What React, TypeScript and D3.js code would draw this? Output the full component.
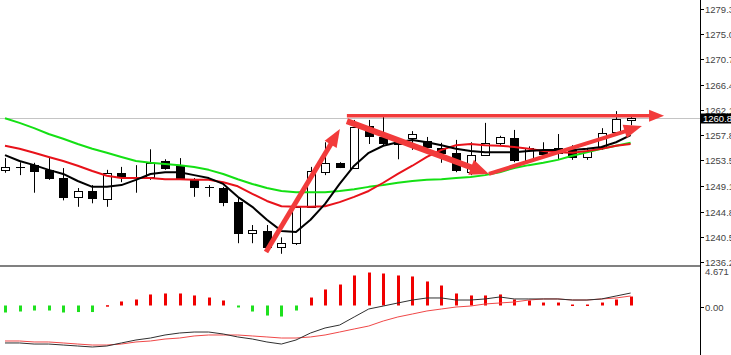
import React, { useEffect, useRef } from "react";
import * as d3 from "d3";

// Candles (44 bars)
const opens = [1251.9, 1252.4, 1252.7, 1251.9, 1250.5, 1247.3, 1248.3, 1246.9, 1251.4, 1250.7, 1250.7, 1253.4, 1252.7, 1250.3, 1249.0, 1248.8, 1246.4, 1241.1, 1241.5, 1238.7, 1239.4, 1245.6, 1251.5, 1253.1, 1252.2, 1259.4, 1257.5, 1256.5, 1257.3, 1256.8, 1255.6, 1254.8, 1251.5, 1254.4, 1256.5, 1257.3, 1253.6, 1255.3, 1254.8, 1255.3, 1254.1, 1255.8, 1258.3, 1260.4];
const highs = [1253.9, 1253.2, 1253.1, 1254.1, 1252.2, 1248.8, 1249.3, 1251.9, 1252.4, 1252.7, 1255.4, 1253.7, 1253.9, 1250.5, 1249.3, 1249.0, 1247.1, 1242.5, 1242.5, 1240.4, 1245.6, 1252.4, 1256.6, 1253.2, 1260.4, 1260.4, 1261.2, 1257.0, 1258.5, 1257.5, 1256.5, 1257.0, 1256.6, 1259.9, 1257.7, 1258.7, 1255.9, 1256.6, 1258.0, 1256.1, 1255.6, 1259.0, 1261.9, 1260.9];
const lows = [1251.4, 1251.0, 1248.0, 1250.2, 1246.7, 1245.6, 1246.2, 1245.6, 1249.8, 1248.0, 1250.2, 1251.9, 1250.2, 1247.3, 1247.3, 1245.7, 1239.4, 1239.4, 1238.6, 1237.6, 1239.1, 1245.6, 1251.0, 1252.2, 1252.2, 1256.3, 1256.0, 1253.7, 1255.3, 1255.3, 1253.1, 1251.5, 1251.0, 1254.4, 1256.1, 1253.2, 1253.2, 1254.4, 1253.6, 1253.6, 1253.6, 1255.3, 1258.2, 1259.5];
const closes = [1252.4, 1252.3, 1251.7, 1250.5, 1247.3, 1248.3, 1247.1, 1251.4, 1250.7, 1250.6, 1253.1, 1252.2, 1250.5, 1249.0, 1248.9, 1246.4, 1241.1, 1241.6, 1238.7, 1239.4, 1245.6, 1251.7, 1253.1, 1252.4, 1259.2, 1257.7, 1256.5, 1256.3, 1258.0, 1255.8, 1254.8, 1251.9, 1254.4, 1256.5, 1257.5, 1253.6, 1255.6, 1254.6, 1255.6, 1254.1, 1255.1, 1258.2, 1260.5, 1260.8];

// Moving averages (fast = black, medium = red, slow = green)
const maFast = [1254.4, 1253.4, 1252.7, 1251.9, 1251.2, 1250.0, 1249.0, 1249.0, 1249.3, 1250.2, 1251.2, 1251.5, 1251.5, 1251.0, 1250.5, 1249.5, 1247.3, 1245.6, 1243.4, 1241.5, 1241.3, 1243.4, 1246.1, 1249.5, 1252.6, 1254.8, 1256.0, 1256.6, 1257.0, 1256.6, 1256.1, 1255.5, 1255.1, 1254.9, 1254.9, 1254.9, 1255.1, 1255.3, 1255.3, 1255.3, 1255.5, 1255.8, 1256.6, 1257.8];
const maMid = [1256.0, 1255.5, 1254.8, 1254.1, 1253.4, 1252.6, 1251.7, 1250.9, 1250.5, 1250.5, 1250.5, 1250.3, 1250.3, 1250.2, 1250.2, 1249.8, 1249.1, 1247.8, 1246.6, 1245.7, 1245.6, 1245.6, 1245.7, 1246.4, 1247.3, 1248.3, 1249.7, 1251.2, 1252.6, 1254.1, 1255.3, 1256.1, 1256.3, 1256.1, 1256.0, 1255.8, 1255.5, 1255.1, 1254.9, 1254.8, 1255.1, 1255.5, 1256.0, 1256.3];
const maSlow = [1260.7, 1259.9, 1259.0, 1258.0, 1257.2, 1256.3, 1255.5, 1254.8, 1254.1, 1253.4, 1253.1, 1252.9, 1252.7, 1252.4, 1251.9, 1251.2, 1250.3, 1249.5, 1248.8, 1248.3, 1248.1, 1248.1, 1248.1, 1248.3, 1248.6, 1249.0, 1249.3, 1249.7, 1250.0, 1250.2, 1250.3, 1250.5, 1250.7, 1251.0, 1251.5, 1252.2, 1252.7, 1253.1, 1253.6, 1254.3, 1254.9, 1255.5, 1256.0, 1256.5];

// MACD sub window
const macdHist = [-0.92, -0.79, -0.66, -0.66, -0.92, -0.86, -0.86, 0.04, 0.53, 0.79, 1.45, 1.58, 1.58, 1.32, 1.05, 0.66, -0.26, -0.79, -1.32, -1.45, -0.66, 1.05, 2.11, 2.76, 3.95, 4.34, 4.21, 3.95, 3.82, 3.16, 2.63, 1.58, 1.32, 1.32, 1.45, 0.79, 0.66, 0.39, 0.39, 0.13, 0.13, 0.39, 0.79, 1.18];
const macdMain = [-4.93, -4.93, -5.07, -5.07, -5.2, -5.33, -5.46, -5.33, -4.93, -4.54, -4.28, -3.88, -3.62, -3.49, -3.49, -3.75, -4.14, -4.41, -4.8, -5.07, -4.54, -3.62, -2.96, -2.57, -1.51, -0.46, -0.07, 0.33, 0.72, 0.99, 0.99, 0.72, 0.72, 0.86, 1.12, 0.86, 0.86, 0.86, 0.86, 0.72, 0.72, 0.86, 1.25, 1.64];
const macdSignal = [-4.67, -4.67, -4.8, -4.8, -4.93, -5.07, -5.2, -5.2, -5.07, -4.8, -4.67, -4.41, -4.28, -4.01, -3.88, -3.88, -3.88, -4.01, -4.14, -4.28, -4.28, -4.14, -3.88, -3.49, -3.09, -2.7, -2.04, -1.51, -1.12, -0.72, -0.46, -0.2, -0.07, 0.2, 0.33, 0.46, 0.72, 0.86, 0.86, 0.72, 0.72, 0.86, 0.99, 1.25];

// Axis labels
const priceTicks = [1279.3, 1275.0, 1270.7, 1266.4, 1262.1, 1257.8, 1253.5, 1249.1, 1244.8, 1240.5, 1236.2];
const macdTicks = [4.671, 0];
const macdTickLabels = ["4.671", "0.00"];
const lastPrice = 1260.8;

// Hand drawn arrows: [bar, price] at start and tip
const arrowFrom = [[17.94, 1237.9], [23.5, 1261.1], [23.5, 1260.2], [33.26, 1251.2]];
const arrowTo = [[23.02, 1258.85], [45.3, 1261.1], [33.26, 1251.2], [43.78, 1259.36]];

/** Style variables. */
const W = 731;
const H = 355;
const axisX = 700;
const arrowColor = "#f23b3b";
const arrowSizes = [
  { shaft: 5, len: 18, half: 7 },
  { shaft: 3.5, len: 15, half: 6 },
  { shaft: 6, len: 19, half: 8 },
  { shaft: 4, len: 18, half: 7 },
];

export default function App() {
  const ref = useRef<SVGSVGElement>(null);

  useEffect(() => {
    const svg = d3.select(ref.current);
    svg.selectAll("*").remove();

    const n = closes.length;
    const x = d3.scaleLinear().domain([0, n - 1]).range([5, 630.6]);
    const y = d3.scaleLinear().domain([1236.2, 1279.3]).range([262, 9]);
    const ym = d3.scaleLinear().domain([0, 4.671]).range([305.5, 270]);

    // clip paths for the two windows
    const defs = svg.append("defs");
    defs.append("clipPath").attr("id", "mainClip").append("rect")
      .attr("x", 0).attr("y", 0).attr("width", axisX).attr("height", 265);
    defs.append("clipPath").attr("id", "macdClip").append("rect")
      .attr("x", 0).attr("y", 267).attr("width", axisX).attr("height", H - 267);

    svg.append("rect").attr("width", W).attr("height", H).attr("fill", "#fff");

    const main = svg.append("g").attr("clip-path", "url(#mainClip)");

    // current price line
    const yLast = Math.round(y(lastPrice)) + 0.5;
    main.append("line")
      .attr("x1", 0).attr("x2", axisX).attr("y1", yLast).attr("y2", yLast)
      .attr("stroke", "#c4c4c4").attr("stroke-width", 1);

    // candles
    const idx = d3.range(n);
    const cx = (i: number) => Math.round(x(i)) + 0.5;
    const candles = main.append("g").selectAll("g").data(idx).join("g");
    candles.append("line")
      .attr("x1", cx).attr("x2", cx)
      .attr("y1", (i) => y(highs[i])).attr("y2", (i) => y(lows[i]))
      .attr("stroke", "#000").attr("stroke-width", 1);
    candles.append("rect")
      .attr("x", (i) => cx(i) - 4)
      .attr("width", 8)
      .attr("y", (i) => Math.round(y(Math.max(opens[i], closes[i]))) + 0.5)
      .attr("height", (i) =>
        Math.max(0.01, Math.round(y(Math.min(opens[i], closes[i]))) - Math.round(y(Math.max(opens[i], closes[i]))))
      )
      .attr("fill", (i) => (closes[i] >= opens[i] ? "#fff" : "#000"))
      .attr("stroke", "#000").attr("stroke-width", 1);

    // moving averages
    const maLine = d3.line<number>().x((d, i) => x(i)).y((d) => y(d));
    [
      { data: maSlow, color: "#14e014" },
      { data: maMid, color: "#e8121a" },
      { data: maFast, color: "#000" },
    ].forEach((m) => {
      main.append("path").attr("d", maLine(m.data))
        .attr("fill", "none").attr("stroke", m.color).attr("stroke-width", 2)
        .attr("stroke-linejoin", "round");
    });

    // arrows
    arrowFrom.forEach((f, k) => {
      const t = arrowTo[k];
      const s = arrowSizes[k];
      const x1 = x(f[0]), y1 = y(f[1]), x2 = x(t[0]), y2 = y(t[1]);
      const len = Math.hypot(x2 - x1, y2 - y1);
      const ux = (x2 - x1) / len, uy = (y2 - y1) / len;
      const bx = x2 - ux * s.len, by = y2 - uy * s.len;
      main.append("line")
        .attr("x1", x1).attr("y1", y1).attr("x2", bx + ux * 2).attr("y2", by + uy * 2)
        .attr("stroke", arrowColor).attr("stroke-width", s.shaft);
      main.append("polygon")
        .attr("points", [
          [x2, y2],
          [bx - uy * s.half, by + ux * s.half],
          [bx + uy * s.half, by - ux * s.half],
        ].map((p) => p.join(",")).join(" "))
        .attr("fill", arrowColor);
    });

    // window separator
    svg.append("rect").attr("x", 0).attr("y", 265).attr("width", axisX + 1).attr("height", 2)
      .attr("fill", "#808080");

    // MACD window
    const macd = svg.append("g").attr("clip-path", "url(#macdClip)");
    macd.append("g").selectAll("rect").data(idx).join("rect")
      .attr("x", (i) => Math.round(x(i)) - 1)
      .attr("width", 3)
      .attr("y", (i) => ym(Math.max(0, macdHist[i])))
      .attr("height", (i) => Math.max(1.5, Math.abs(ym(macdHist[i]) - ym(0))))
      .attr("fill", (i) => (macdHist[i] >= 0 ? "#f00000" : "#1ee01e"));
    const mLine = d3.line<number>().x((d, i) => x(i)).y((d) => ym(d));
    macd.append("path").attr("d", mLine(macdSignal))
      .attr("fill", "none").attr("stroke", "#f04848").attr("stroke-width", 1);
    macd.append("path").attr("d", mLine(macdMain))
      .attr("fill", "none").attr("stroke", "#303030").attr("stroke-width", 1);

    // right axis
    svg.append("line")
      .attr("x1", axisX + 0.5).attr("x2", axisX + 0.5).attr("y1", 0).attr("y2", H)
      .attr("stroke", "#000").attr("stroke-width", 1);

    const labelFont = "'Liberation Sans', Arial, sans-serif";
    const pt = svg.append("g").selectAll("g").data(priceTicks).join("g")
      .attr("transform", (d) => `translate(0,${Math.round(y(d)) + 0.5})`);
    pt.append("line").attr("x1", axisX).attr("x2", axisX + 4).attr("stroke", "#000");
    pt.append("text")
      .attr("x", 705).attr("dy", "0.35em")
      .attr("font-family", labelFont).attr("font-size", 9.5).attr("fill", "#444")
      .text((d) => d.toFixed(1));

    const mt = svg.append("g").selectAll("g").data(macdTicks).join("g")
      .attr("transform", (d) => `translate(0,${Math.round(ym(d)) + 1.5})`);
    mt.append("line").attr("x1", axisX).attr("x2", axisX + 4).attr("stroke", "#000")
      .attr("opacity", (d, i) => (i === 0 ? 0 : 1));
    mt.append("text")
      .attr("x", 705).attr("dy", "0.35em")
      .attr("font-family", labelFont).attr("font-size", 9.5).attr("fill", "#444")
      .text((d, i) => macdTickLabels[i]);

    // current price box
    svg.append("rect")
      .attr("x", axisX + 1).attr("y", yLast - 5).attr("width", W - axisX).attr("height", 10)
      .attr("fill", "#000");
    svg.append("text")
      .attr("x", 703).attr("y", yLast).attr("dy", "0.35em")
      .attr("font-family", labelFont).attr("font-size", 9.5).attr("fill", "#fff")
      .text(lastPrice.toFixed(1));
  }, []);

  return (
    <svg
      ref={ref}
      width={W}
      height={H}
      style={{ position: "absolute", left: 0, top: 0 }}
    ></svg>
  );
}
